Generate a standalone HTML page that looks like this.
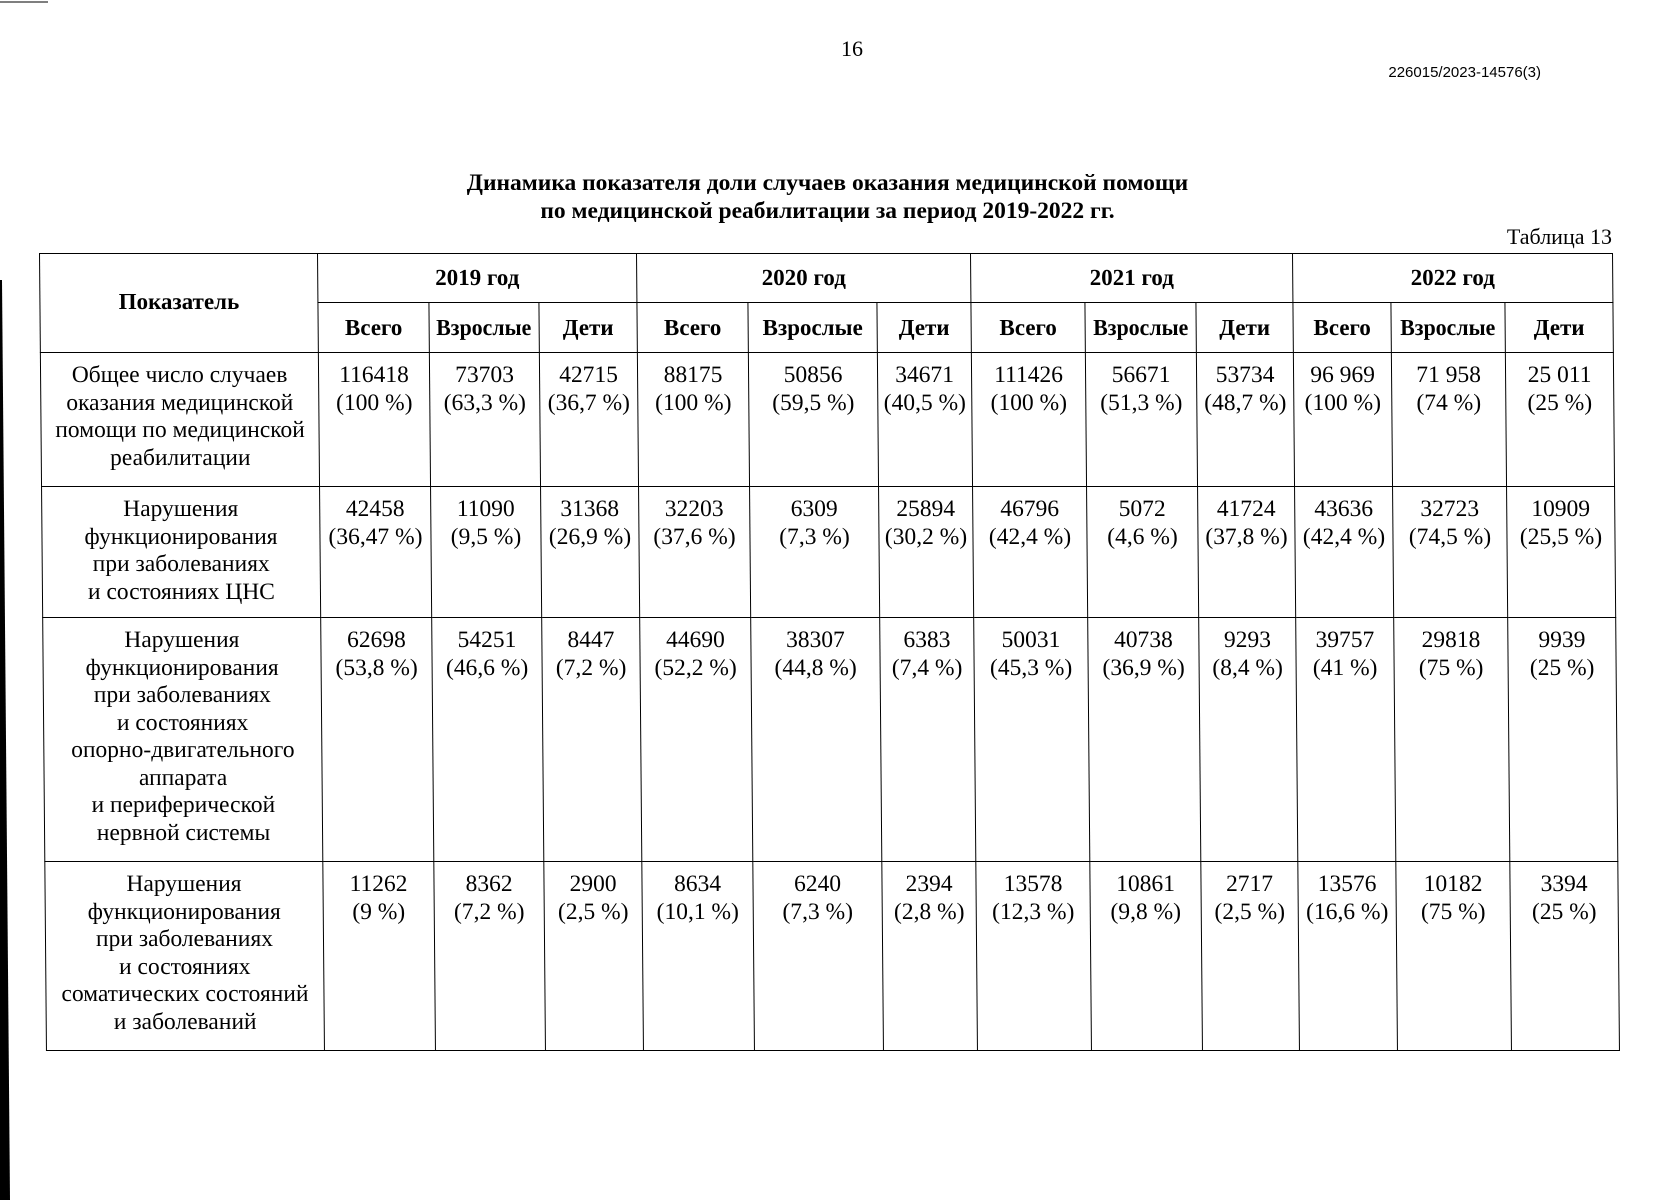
<!DOCTYPE html>
<html><head><meta charset="utf-8">
<style>
html,body{margin:0;padding:0;background:#fff;}
body{width:1655px;height:1200px;position:relative;overflow:hidden;font-family:"Liberation Serif",serif;color:#000;}
.abs{position:absolute;}
table{position:absolute;left:39px;top:253px;border-collapse:collapse;table-layout:fixed;transform:skewX(0.5deg);transform-origin:0 0;}
td{border:1.6px solid #000;padding:0;text-align:center;vertical-align:top;font-size:23.5px;line-height:27.5px;overflow:hidden;white-space:nowrap;}
td.h{font-weight:bold;vertical-align:middle;font-size:23px;}
td.lab{padding-top:9px;}
td.n{padding-top:9px;}
.c{display:inline-block;transform:scaleX(0.95);white-space:nowrap;}
</style></head><body>
<svg class="abs" style="left:0;top:0" width="60" height="1200"><polygon points="0,280 2,280 10,1200 0,1200" fill="#000"/><line x1="0" y1="2" x2="48" y2="2" stroke="#555" stroke-width="1.5"/></svg>
<div class="abs" style="left:832px;top:36px;font-size:22px;width:40px;text-align:center">16</div>
<div class="abs" style="right:114px;top:64px;font-family:'Liberation Sans',sans-serif;font-size:15px">226015/2023-14576(3)</div>
<div class="abs" style="left:0;width:1655px;top:169px;text-align:center;font-weight:bold;font-size:23.5px;line-height:28px;">Динамика показателя доли случаев оказания медицинской помощи<br>по медицинской реабилитации за период 2019-2022 гг.</div>
<div class="abs" style="right:43px;top:224px;font-size:22px">Таблица 13</div>
<table>
<colgroup><col style="width:278px"><col style="width:111px"><col style="width:110px"><col style="width:98px"><col style="width:111px"><col style="width:129px"><col style="width:94px"><col style="width:114px"><col style="width:111px"><col style="width:97px"><col style="width:98px"><col style="width:114px"><col style="width:108px"></colgroup>
<tr style="height:49px"><td class="h" rowspan="2" style="vertical-align:top;padding-top:34px">Показатель</td><td class="h" colspan="3">2019 год</td><td class="h" colspan="3">2020 год</td><td class="h" colspan="3">2021 год</td><td class="h" colspan="3">2022 год</td></tr>
<tr style="height:50px"><td class="h">Всего</td><td class="h"><span class="c">Взрослые</span></td><td class="h">Дети</td><td class="h">Всего</td><td class="h">Взрослые</td><td class="h">Дети</td><td class="h">Всего</td><td class="h"><span class="c">Взрослые</span></td><td class="h">Дети</td><td class="h">Всего</td><td class="h"><span class="c">Взрослые</span></td><td class="h">Дети</td></tr>
<tr style="height:134px"><td class="lab">Общее число случаев<br>оказания медицинской<br>помощи по медицинской<br>реабилитации</td>
<td class="n">116418<br>(100 %)</td><td class="n">73703<br>(63,3 %)</td><td class="n">42715<br>(36,7 %)</td>
<td class="n">88175<br>(100 %)</td><td class="n">50856<br>(59,5 %)</td><td class="n">34671<br>(40,5 %)</td>
<td class="n">111426<br>(100 %)</td><td class="n">56671<br>(51,3 %)</td><td class="n">53734<br>(48,7 %)</td>
<td class="n">96 969<br>(100 %)</td><td class="n">71 958<br>(74 %)</td><td class="n">25 011<br>(25 %)</td></tr>
<tr style="height:131px"><td class="lab">Нарушения<br>функционирования<br>при заболеваниях<br>и состояниях ЦНС</td>
<td class="n">42458<br>(36,47 %)</td><td class="n">11090<br>(9,5 %)</td><td class="n">31368<br>(26,9 %)</td>
<td class="n">32203<br>(37,6 %)</td><td class="n">6309<br>(7,3 %)</td><td class="n">25894<br>(30,2 %)</td>
<td class="n">46796<br>(42,4 %)</td><td class="n">5072<br>(4,6 %)</td><td class="n">41724<br>(37,8 %)</td>
<td class="n">43636<br>(42,4 %)</td><td class="n">32723<br>(74,5 %)</td><td class="n">10909<br>(25,5 %)</td></tr>
<tr style="height:244px"><td class="lab">Нарушения<br>функционирования<br>при заболеваниях<br>и состояниях<br>опорно-двигательного<br>аппарата<br>и периферической<br>нервной системы</td>
<td class="n">62698<br>(53,8 %)</td><td class="n">54251<br>(46,6 %)</td><td class="n">8447<br>(7,2 %)</td>
<td class="n">44690<br>(52,2 %)</td><td class="n">38307<br>(44,8 %)</td><td class="n">6383<br>(7,4 %)</td>
<td class="n">50031<br>(45,3 %)</td><td class="n">40738<br>(36,9 %)</td><td class="n">9293<br>(8,4 %)</td>
<td class="n">39757<br>(41 %)</td><td class="n">29818<br>(75 %)</td><td class="n">9939<br>(25 %)</td></tr>
<tr style="height:189px"><td class="lab">Нарушения<br>функционирования<br>при заболеваниях<br>и состояниях<br>соматических состояний<br>и заболеваний</td>
<td class="n">11262<br>(9 %)</td><td class="n">8362<br>(7,2 %)</td><td class="n">2900<br>(2,5 %)</td>
<td class="n">8634<br>(10,1 %)</td><td class="n">6240<br>(7,3 %)</td><td class="n">2394<br>(2,8 %)</td>
<td class="n">13578<br>(12,3 %)</td><td class="n">10861<br>(9,8 %)</td><td class="n">2717<br>(2,5 %)</td>
<td class="n">13576<br>(16,6 %)</td><td class="n">10182<br>(75 %)</td><td class="n">3394<br>(25 %)</td></tr>
</table>
</body></html>
